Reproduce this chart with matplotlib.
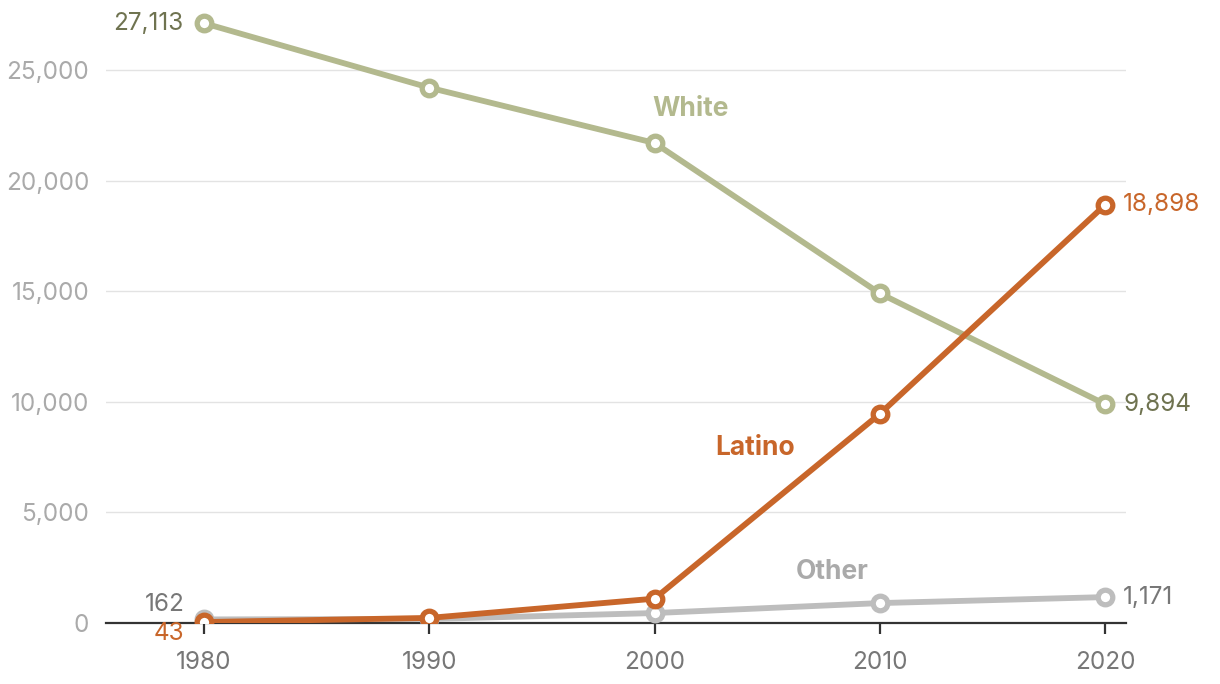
import matplotlib
matplotlib.use("Agg")
from matplotlib import pyplot as plt

plt.rcParams['font.family'] = ['Inter', 'DejaVu Sans']

# data
years = [1980, 1990, 2000, 2010, 2020]
white = [27113, 24200, 21700, 14900, 9894]
latino = [43, 230, 1100, 9450, 18898]
other = [162, 180, 450, 900, 1171]

WHITE_C = '#b3b98e'
LATINO_C = '#c8662a'
OTHER_C = '#bdbdbd'

fig = plt.figure(figsize=(12.2, 6.84), dpi=100)
ax = fig.add_axes([106 / 1220, 61 / 684, 1020 / 1220, 619.4 / 684])


def draw_series(vals, color, z):
    ax.plot(years, vals, color=color, lw=4.2, zorder=z, solid_capstyle='round')
    ax.plot(years, vals, 'o', ms=10.5, mfc='white', mec=color, mew=3.8, zorder=z + 0.5)


draw_series(other, OTHER_C, 3)
draw_series(white, WHITE_C, 4)
draw_series(latino, LATINO_C, 5)

ax.set_xlim(1975.65, 2020.93)
ax.set_ylim(0, 28000)
ax.set_xticks(years)
ax.set_xticklabels([str(y) for y in years])
ax.set_yticks([0, 5000, 10000, 15000, 20000, 25000])
ax.set_yticklabels(['0', '5,000', '10,000', '15,000', '20,000', '25,000'])
ax.grid(axis='y', color='#e3e3e3', lw=1)
ax.set_axisbelow(True)
for s in ['top', 'right', 'left']:
    ax.spines[s].set_visible(False)
ax.spines['bottom'].set_color('#333333')
ax.spines['bottom'].set_linewidth(1.6)
ax.spines['bottom'].set_zorder(2)
ax.tick_params(axis='x', length=8, width=1.6, color='#333333', labelcolor='#777777',
               labelsize=17.5, pad=12)
ax.tick_params(axis='y', length=0, labelcolor='#aaaaaa', labelsize=17.5, pad=12)

# end labels
num = dict(fontsize=17.5, va='center')
ax.annotate('27,113', (years[0], white[0]), xytext=(-15, 0), textcoords='offset points',
            ha='right', color='#6f7350', **num)
ax.annotate('9,894', (years[-1], white[-1]), xytext=(13, 0), textcoords='offset points',
            ha='left', color='#6f7350', **num)
ax.annotate('18,898', (years[-1], latino[-1]), xytext=(13, 0), textcoords='offset points',
            ha='left', color=LATINO_C, **num)
ax.annotate('43', (years[0], latino[0]), xytext=(-14, -8), textcoords='offset points',
            ha='right', color=LATINO_C, **num)
ax.annotate('162', (years[0], other[0]), xytext=(-14, 11), textcoords='offset points',
            ha='right', color='#777777', **num)
ax.annotate('1,171', (years[-1], other[-1]), xytext=(13, 0), textcoords='offset points',
            ha='left', color='#777777', **num)

# series names
ax.text(2001.6, 23250, 'White', fontsize=19, fontweight='bold', color=WHITE_C, ha='center', va='center')
ax.text(2004.45, 7900, 'Latino', fontsize=19, fontweight='bold', color=LATINO_C, ha='center', va='center')
ax.text(2007.9, 2300, 'Other', fontsize=19, fontweight='bold', color='#aaaaaa', ha='center', va='center')

fig.savefig('out.png', dpi=100)
